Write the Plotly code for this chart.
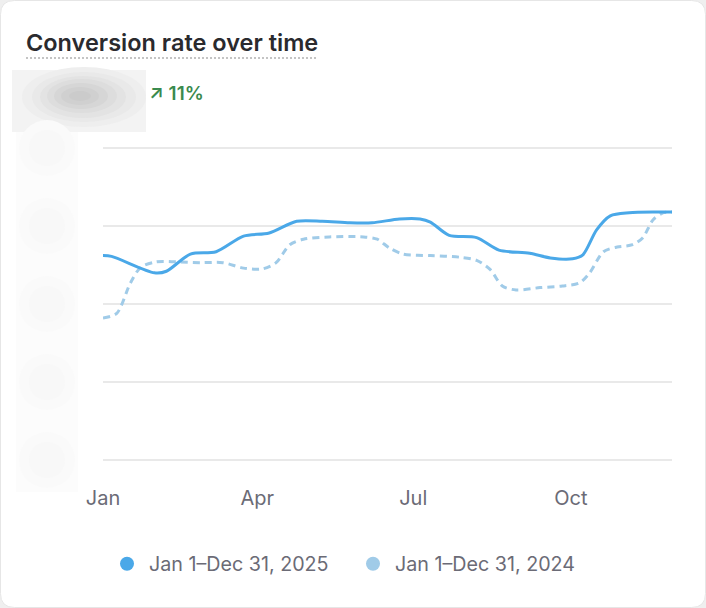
import plotly.graph_objects as go

# ---- data ----
dates_2025 = ["2025-01-01", "2025-01-06", "2025-01-31", "2025-02-07", "2025-02-21", "2025-03-08",
              "2025-03-24", "2025-04-08", "2025-04-24", "2025-05-09", "2025-05-25", "2025-06-07",
              "2025-06-23", "2025-07-05", "2025-07-11", "2025-07-22", "2025-08-07", "2025-08-20",
              "2025-09-07", "2025-09-19", "2025-10-02", "2025-10-08", "2025-10-16", "2025-10-24",
              "2025-11-04", "2025-11-20", "2025-11-29"]
rate_2025 = [2.62, 2.61, 2.40, 2.42, 2.64, 2.67, 2.87, 2.91, 3.06, 3.06, 3.04, 3.04,
             3.09, 3.09, 3.05, 2.88, 2.85, 2.69, 2.65, 2.59, 2.58, 2.63, 2.95, 3.13,
             3.17, 3.18, 3.18]

dates_2024 = ["2025-01-01", "2025-01-09", "2025-01-17", "2025-01-23", "2025-02-01", "2025-02-13",
              "2025-02-27", "2025-03-12", "2025-03-24", "2025-04-04", "2025-04-12", "2025-04-20",
              "2025-04-28", "2025-05-13", "2025-06-02", "2025-06-10", "2025-06-17", "2025-06-25",
              "2025-07-11", "2025-07-28", "2025-08-07", "2025-08-15", "2025-08-22", "2025-08-30",
              "2025-09-13", "2025-09-26", "2025-10-06", "2025-10-12", "2025-10-20", "2025-10-28",
              "2025-11-06", "2025-11-12", "2025-11-18", "2025-11-24", "2025-11-29"]
rate_2024 = [1.82, 1.88, 2.27, 2.47, 2.54, 2.54, 2.53, 2.53, 2.46, 2.45, 2.53, 2.76,
             2.83, 2.86, 2.86, 2.83, 2.72, 2.64, 2.62, 2.60, 2.56, 2.44, 2.23, 2.18,
             2.21, 2.23, 2.27, 2.40, 2.67, 2.73, 2.76, 2.85, 3.08, 3.17, 3.18]

series_names = ["Jan 1\u2013Dec 31, 2025", "Jan 1\u2013Dec 31, 2024"]
tick_dates = ["2025-01-01", "2025-04-01", "2025-07-01", "2025-10-01"]
tick_labels = ["Jan", "Apr", "Jul", "Oct"]
y_ticks = [0, 1, 2, 3, 4]
change_text = "\u2197 11%"
title_text = "Conversion rate over time"

C_2025 = "#4aa8e8"
C_2024 = "#a0cbe8"
GRAY_TXT = "#6b6b76"

fig = go.Figure()
fig.add_trace(go.Scatter(x=dates_2024, y=rate_2024, mode="lines", showlegend=False,
                         line=dict(color=C_2024, width=3, dash="7px,5px", shape="spline", smoothing=0.8),
                         hoverinfo="skip"))
fig.add_trace(go.Scatter(x=dates_2025, y=rate_2025, mode="lines", showlegend=False,
                         line=dict(color=C_2025, width=3, shape="spline", smoothing=0.8),
                         hoverinfo="skip"))
# legend entries with circle markers
fig.add_trace(go.Scatter(x=[None], y=[None], mode="markers", name=series_names[0],
                         marker=dict(color=C_2025, size=14)))
fig.add_trace(go.Scatter(x=[None], y=[None], mode="markers", name=series_names[1],
                         marker=dict(color=C_2024, size=14)))

W, H = 706, 608
L, R, T, B = 103, 34, 146, 146
PW, PH = W - L - R, H - T - B

def px_x(p):
    return (p - L) / PW

def px_y(p):
    return (H - B - p) / PH

shapes = []
# card: rounded white rectangle
r = 14
x0, y0, x1, y1 = 0.5, 0.5, W - 0.5, H - 0.5
def P(x, y):
    return f"{px_x(x):.5f},{px_y(y):.5f}"
path = (f"M {P(x0 + r, y0)} L {P(x1 - r, y0)} Q {P(x1, y0)} {P(x1, y0 + r)} "
        f"L {P(x1, y1 - r)} Q {P(x1, y1)} {P(x1 - r, y1)} L {P(x0 + r, y1)} "
        f"Q {P(x0, y1)} {P(x0, y1 - r)} L {P(x0, y0 + r)} Q {P(x0, y0)} {P(x0 + r, y0)} Z")
shapes.append(dict(type="path", path=path, xref="paper", yref="paper", layer="below",
                   fillcolor="white", line=dict(color="#e6e6e6", width=1)))

# blurred value block (privacy blur imitation)
shapes.append(dict(type="rect", xref="paper", yref="paper", layer="below",
                   x0=px_x(12), x1=px_x(146), y0=px_y(132), y1=px_y(70),
                   fillcolor="#f3f3f3", line=dict(width=0)))
blur = [(84, 97, 62, 30, "#eeeeee"), (84, 97, 52, 25, "#e9e9e9"), (83, 97, 43, 21, "#e3e3e3"),
        (82, 96, 35, 17, "#dddddd"), (81, 96, 27, 13, "#d6d6d6"), (80, 96, 19, 9, "#d0d0d0"),
        (80, 96, 11, 5, "#cbcbcb")]
for (cx, cy, rx, ry, col) in blur:
    shapes.append(dict(type="circle", xref="paper", yref="paper", layer="below",
                       x0=px_x(cx - rx), x1=px_x(cx + rx), y0=px_y(cy + ry), y1=px_y(cy - ry),
                       fillcolor=col, line=dict(width=0)))
# blurred y-axis labels
shapes.append(dict(type="rect", xref="paper", yref="paper", layer="below",
                   x0=px_x(16), x1=px_x(78), y0=px_y(492), y1=px_y(132),
                   fillcolor="#fcfcfc", line=dict(width=0)))
for gy in [148, 226, 304, 382, 460]:
    for (rr, col) in [(28, "#fafafa"), (18, "#f8f8f8")]:
        shapes.append(dict(type="circle", xref="paper", yref="paper", layer="below",
                           x0=px_x(47 - rr), x1=px_x(47 + rr), y0=px_y(gy + rr), y1=px_y(gy - rr),
                           fillcolor=col, line=dict(width=0)))
# dotted underline under title
shapes.append(dict(type="line", xref="paper", yref="paper",
                   x0=px_x(26), x1=px_x(318), y0=px_y(58), y1=px_y(58),
                   line=dict(color="#c4c4c4", width=2, dash="2px,2px")))

annotations = [
    dict(text=title_text, xref="paper", yref="paper", x=px_x(24), y=px_y(42),
         xanchor="left", yanchor="middle", showarrow=False,
         font=dict(family="Inter, sans-serif", size=23.5, weight=600, color="#2a2a2e")),
    dict(text=change_text, xref="paper", yref="paper", x=px_x(147), y=px_y(93),
         xanchor="left", yanchor="middle", showarrow=False,
         font=dict(family="Inter, sans-serif", size=19, weight=600, color="#3a8a4e")),
]

fig.update_layout(
    width=W, height=H,
    margin=dict(l=L, r=R, t=T, b=B, pad=0),
    paper_bgcolor="#efefef",
    plot_bgcolor="rgba(0,0,0,0)",
    font=dict(family="Inter, sans-serif", size=20, color=GRAY_TXT),
    shapes=shapes,
    annotations=annotations,
    showlegend=True,
    legend=dict(orientation="h", x=px_x(105), xanchor="left", y=px_y(564), yanchor="middle",
                font=dict(size=19.7, color=GRAY_TXT), itemwidth=34, entrywidth=197,
                bgcolor="rgba(0,0,0,0)", traceorder="normal"),
    xaxis=dict(type="date", range=["2025-01-01", "2025-11-29"], tickvals=tick_dates,
               ticktext=tick_labels, showgrid=False, zeroline=False, showline=False,
               ticks="", ticklabelstandoff=22, tickfont=dict(size=20, color=GRAY_TXT)),
    yaxis=dict(range=[-0.025, 4.025], tickvals=y_ticks, showticklabels=False, showgrid=True,
               gridcolor="#e9e9e9", gridwidth=1.5, zeroline=False, showline=False, ticks=""),
)

fig.write_html("out.html", config={"displayModeBar": False},
               post_script="document.body.style.margin='0';")
